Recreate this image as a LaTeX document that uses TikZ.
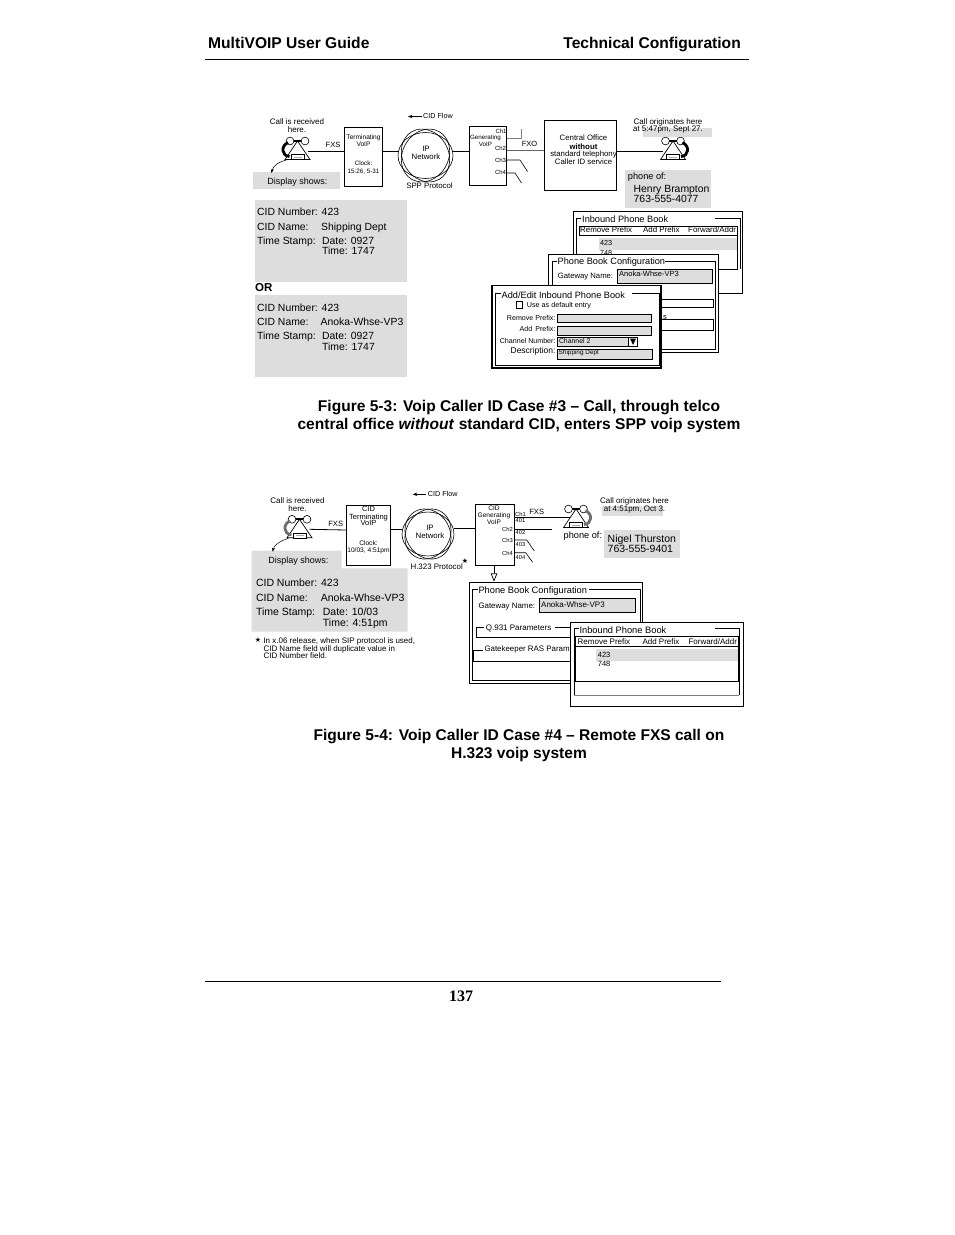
\documentclass[tikz,border=0pt]{standalone}
\usepackage{fontspec}
\setmainfont{Liberation Sans}
\newfontfamily\pagenumfont{Liberation Serif}
\newfontfamily\starfont{DejaVu Sans}
\usepackage{xcolor}
\usepackage{tikz}
\usetikzlibrary{arrows.meta, positioning}
\definecolor{figshade}{RGB}{221,221,221}
\definecolor{coilgray}{RGB}{110,110,110}
\tikzstyle{arrow} = [-{Stealth[length=1.6mm]}, semithick]
\tikzset{
    fsz/.style={font=\fontsize{#1}{#1}\selectfont},
    txt/.style={inner sep=0pt, anchor=west, execute at begin node={\rule[-0.2em]{0pt}{1.1em}}},
    mid/.style={inner sep=0pt, align=center},
    ctxt/.style={inner sep=0pt, anchor=east, execute at begin node={\rule[-0.2em]{0pt}{1.1em}}},
    wire/.style={line width=0.8pt},
    shade/.style={fill=figshade, draw=none},
    pane/.style={draw, fill=white, line width=1pt},
    frameline/.style={line width=0.7pt},
    field/.style={draw, fill=figshade, line width=0.6pt},
    pics/phoneset/.style={code={
        \draw[line width=2pt] (-7.5,0) -- (7.5,0);
        \draw[fill=white, line width=0.6pt] (-7.5,0) circle (3.9);
        \draw[fill=white, line width=0.6pt] (7.5,0) circle (3.9);
        \draw[line width=0.7pt] (0,0) -- (-12.5,18.5) -- (12.5,18.5) -- cycle;
        \draw[fill=white, line width=0.6pt] (-6,13.5) rectangle (6.5,18.5);
        \draw[coilgray!60, line width=0.6pt] (-4,16) -- (4.5,16);
        \draw[#1, line width=2.8pt] (-9.5,1.5) .. controls (-17,5) and (-16,15) .. (-8,15.5);
        \coordinate (-port) at (10,10);
        \coordinate (-base) at (-11,19);
    }},
}
\begin{document}
\begin{tikzpicture}[x=1pt, y=-1pt]
    \useasboundingbox (0,0) rectangle (954,1235);
    \fill[white] (0,0) rectangle (954,1235);
    % page head and foot
    \node[inner sep=0pt, anchor=base west, font=\fontsize{15.6}{16}\selectfont\bfseries] (headl) at (208,48) {MultiVOIP User Guide};
    \node[inner sep=0pt, anchor=base east, font=\fontsize{15.6}{16}\selectfont\bfseries] (headr) at (741,48) {Technical Configuration};
    \coordinate (rulea) at (205,59.5);
    \coordinate (ruleb) at (749,59.5);
    \draw[line width=0.8pt] (rulea) -- (ruleb);
    \coordinate (rulec) at (205,981.5);
    \coordinate (ruled) at (721,981.5);
    \draw[line width=0.8pt] (rulec) -- (ruled);
    \node[mid, font=\pagenumfont\fontsize{16}{16}\selectfont\bfseries] (pagenum) at (461,996) {137};

    % figure 5-3, top row
    \node[mid, fsz=8] (rxtext) at (297,126) {Call is received\\[0.2pt]here.};
    \pic (rxa) at (297.5,141) {phoneset={black}};
    \node[draw, line width=0.8pt, minimum width=38pt, minimum height=59pt, inner sep=0pt] (termbox) at (363.5,157) {};
    \node[mid, fsz=6.6] (termtext) at (363.5,140.5) {Terminating\\[0.4pt]VoIP};
    \node[mid, fsz=6.3] (termclock) at (363.5,167.5) {Clock:\\[1pt]15:26, 5-31};
    \node[mid, fsz=7.6] (fxsa) at (333,144.7) {FXS};
    \coordinate (terma) at (termbox.west |- 0,151);
    \draw[wire] (rxa-port) -- (terma);
    \foreach \ang in {0,60,120}
        \draw[line width=0.6pt, rotate around={\ang:(425.5,155.5)}] (425.5,155.5) ellipse (27.5 and 23);
    \node[circle, minimum size=40pt, inner sep=0pt] (neta) at (425.5,157) {};
    \node[mid, fsz=7.8] (netatext) at (426,152.5) {IP\\[0.2pt]Network};
    \coordinate (netal) at (398,151);
    \coordinate (netar) at (453,151);
    \coordinate (termar) at (termbox.east |- 0,151);
    \draw[wire] (termar) -- (netal);
    \coordinate (flowa) at (422,116.5);
    \coordinate (flowb) at (408,116.5);
    \draw[arrow] (flowa) -- (flowb);
    \node[txt, fsz=7.2] (flowtext) at (423,116) {CID Flow};
    \node[mid, fsz=7.8] (spptext) at (429.5,186) {SPP Protocol};
    \node[draw, line width=0.7pt, minimum width=37.5pt, minimum height=58.5pt, inner sep=0pt] (genbox) at (488,155.7) {};
    \coordinate (genal) at (genbox.west |- 0,151);
    \draw[wire] (netar) -- (genal);
    \node[mid, fsz=6.2] (gentext) at (485.5,141) {Generating\\[0.6pt]VoIP};
    \node[mid, fsz=6] (gench) at (501,131) {Ch1};
    \foreach \y/\lab in {148/Ch2,160/Ch3,172/Ch4}
        \node[mid, fsz=6] (gen\lab) at (500.5,\y) {\lab};
    \coordinate (cha) at (genbox.east |- 0,138.5);
    \coordinate (chb) at (521,138.5);
    \coordinate (chc) at (521,128.5);
    \draw[gray, line width=1pt] (cha) -- (chb);
    \draw[gray, line width=0.6pt] (chb) -- (chc);
    \coordinate (chd) at (genbox.east |- 0,160);
    \coordinate (che) at (520,160);
    \coordinate (chf) at (527.5,171.5);
    \draw[line width=0.6pt] (chd) -- (che) -- (chf);
    \coordinate (chg) at (genbox.east |- 0,173);
    \coordinate (chh) at (515,173);
    \coordinate (chi) at (521.5,183);
    \draw[line width=0.6pt] (chg) -- (chh) -- (chi);
    \node[draw, line width=0.8pt, minimum width=72.5pt, minimum height=70pt, inner sep=0pt] (cobox) at (580.5,155.3) {};
    \coordinate (genbr) at (genbox.east |- 0,150);
    \coordinate (coal) at (cobox.west |- 0,150);
    \draw[gray!80!black, line width=1pt] (genbr) -- (coal);
    \node[mid, fsz=7.5] (fxo) at (529.5,143.7) {FXO};
    \node[mid, fsz=7.8] (cotext) at (583.5,149.5) {Central Office\\[1.4pt]\textbf{without}\\[-0.8pt]standard telephony\\[0pt]Caller ID service};
    \pic[xscale=-1] (txa) at (673,141) {phoneset={black}};
    \coordinate (coar) at (cobox.east |- 0,151);
    \draw[wire] (coar) -- (txa-port);
    \fill[shade] (643,128) rectangle (712,137);
    \node[mid, fsz=8] (txtext) at (668,125.8) {Call originates here\\[-1pt]at 5:47pm, Sept 27.};
    \fill[shade] (625,170) rectangle (710.7,207.7);
    \node[txt, fsz=9.2] (phoneofa) at (627.7,176) {phone of:};
    \node[txt, fsz=10.4] (henry) at (633.5,189.3) {Henry Brampton};
    \node[txt, fsz=10.4] (henrytel) at (633.5,199.3) {763-555-4077};
    \fill[shade] (253,172) rectangle (340,189);
    \node[mid, fsz=9] (dispa) at (297.5,181.8) {Display shows:};
    \draw[-{Stealth[length=1.4mm]}, line width=0.5pt] (rxa-base) .. controls (278,162) and (273,166) .. (271.5,173);

    % figure 5-3, display text
    \fill[shade] (254.5,200) rectangle (407,282);
    \node[txt, fsz=10.4] (numa) at (257,212) {CID Number: 423};
    \node[txt, fsz=10.4] (nama) at (257,226.5) {CID Name:};
    \node[txt, fsz=10.4] (namav) at (321,226.5) {Shipping Dept};
    \node[txt, fsz=10.4] (stampa) at (257,240.5) {Time Stamp:};
    \node[txt, fsz=10.4] (datea) at (322,240.5) {Date: 0927};
    \node[txt, fsz=10.4] (timea) at (322,251) {Time: 1747};
    \node[txt, font=\fontsize{11.5}{11.5}\selectfont\bfseries] (ortext) at (255,287) {OR};
    \fill[shade] (254.5,295) rectangle (407,377);
    \node[txt, fsz=10.4] (numb) at (257,307.5) {CID Number: 423};
    \node[txt, fsz=10.4] (namb) at (257,322) {CID Name:};
    \node[txt, fsz=10.4] (nambv) at (320.5,322) {Anoka-Whse-VP3};
    \node[txt, fsz=10.4] (stampb) at (257,336) {Time Stamp:};
    \node[txt, fsz=10.4] (dateb) at (322,336) {Date: 0927};
    \node[txt, fsz=10.4] (timeb) at (322,346.5) {Time: 1747};

    % figure 5-3, inbound phone book window
    \draw[pane] (573,211.7) rectangle (742.3,293.3);
    \draw[frameline] (581,218.5) -- (576.7,218.5) -- (576.7,290);
    \draw[frameline] (715,218.5) -- (740,218.5) -- (740,269);
    \draw[frameline] (579,235.5) -- (579,226) -- (737.5,226) -- (737.5,269) -- (710,269);
    \draw[frameline] (579,235.5) -- (737.5,235.5);
    \fill[shade] (599,238.3) rectangle (737.3,250);
    \node[txt, fsz=9.2] (inatitle) at (582,219) {Inbound Phone Book};
    \node[txt, fsz=7.9] (inaremove) at (580,229.8) {Remove Prefix};
    \node[txt, fsz=7.9] (inaadd) at (643,229.8) {Add Prefix};
    \node[txt, fsz=7.9] (inafwd) at (688,229.8) {Forward/Addr};
    \node[txt, fsz=7.2] (inaone) at (600,243) {423};
    \node[txt, fsz=7.2] (inatwo) at (600,252.8) {748};

    % figure 5-3, phone book configuration window
    \draw[pane] (548.3,254.3) rectangle (718.3,352.3);
    \draw[frameline] (557,261.5) -- (552,261.5) -- (552,349) -- (715.5,349) -- (715.5,261.5) -- (665,261.5);
    \node[txt, fsz=9.2] (pbatitle) at (557.5,261.8) {Phone Book Configuration};
    \node[txt, fsz=7.7] (pbagate) at (557.7,276.3) {Gateway Name:};
    \draw[field] (617.3,269.3) rectangle (712.7,283.3);
    \node[txt, fsz=7.5] (pbaname) at (619,274) {Anoka-Whse-VP3};
    \draw[frameline] (650,299.7) rectangle (713.7,307.7);
    \draw[frameline] (650,319.5) -- (713.7,319.5) -- (713.7,330.7) -- (650,330.7);
    \node[txt, fsz=7.5] (pbarest) at (663,317.3) {s};

    % figure 5-3, add/edit window
    \draw[draw, fill=white, line width=1.6pt] (492,285.3) rectangle (661,368);
    \draw[frameline] (501,293.5) -- (495,293.5) -- (495,365.5) -- (659,365.5) -- (659,293.5) -- (632,293.5);
    \node[txt, fsz=9.2] (edittitle) at (501.5,295) {Add/Edit Inbound Phone Book};
    \draw[line width=0.6pt] (516,301.7) rectangle (522.7,308.3);
    \node[txt, fsz=7.2] (editdef) at (526.7,304.8) {Use as default entry};
    \node[ctxt, fsz=7.1] (editrm) at (555.7,317.8) {Remove Prefix:};
    \draw[field] (557.3,314.3) rectangle (651.7,322.3);
    \node[ctxt, fsz=7.1] (editadd) at (555.7,329) {Add\, Prefix:};
    \draw[field] (557.3,326.7) rectangle (651.7,335.3);
    \node[ctxt, fsz=7.1] (editch) at (555.7,340.6) {Channel Number:};
    \draw[field] (557.3,337.3) rectangle (637.7,346);
    \node[txt, fsz=6.9] (editchv) at (558.8,341.2) {Channel 2};
    \draw[fill=white, line width=0.6pt] (628.3,337.3) rectangle (637.7,346);
    \fill (630,338.5) -- (636,338.5) -- (633,345) -- cycle;
    \node[ctxt, fsz=8.5] (editdesc) at (555.7,350.3) {Description:};
    \draw[field] (557.3,349.3) rectangle (652.7,359.3);
    \node[txt, fsz=6.4] (editdescv) at (558.5,352.7) {Shipping Dept};

    % caption of figure 5-3
    \node[mid, font=\fontsize{15.55}{18}\selectfont\bfseries] (capa) at (519,416) {Figure 5-3: Voip Caller ID Case \#3 -- Call, through telco\\central office \textit{without} standard CID, enters SPP voip system};

    % figure 5-4, top row
    \node[mid, fsz=8] (rxtextb) at (297.5,504.3) {Call is received\\[0pt]here.};
    \pic (rxb) at (299.5,519.3) {phoneset={coilgray}};
    \node[draw, line width=0.8pt, minimum width=43.5pt, minimum height=60.7pt, inner sep=0pt] (termboxb) at (368.5,535.3) {};
    \node[mid, fsz=7.5] (termtextb) at (368.5,516) {CID\\[0pt]Terminating\\[-1.2pt]VoIP};
    \node[mid, fsz=6.6] (termclockb) at (368.5,547) {Clock:\\[0.7pt]10/03, 4:51pm};
    \node[mid, fsz=7.6] (fxsb) at (335.7,524) {FXS};
    \coordinate (termb) at (termboxb.west |- 0,530);
    \draw[wire] (rxb-port) -- (termb);
    \foreach \ang in {0,60,120}
        \draw[line width=0.6pt, rotate around={\ang:(428,534)}] (428,534) ellipse (26 and 22);
    \node[circle, minimum size=40pt, inner sep=0pt] (netb) at (428,534) {};
    \node[mid, fsz=7.8] (netbtext) at (430,531.7) {IP\\[0.2pt]Network};
    \coordinate (termbr) at (termboxb.east |- 0,529);
    \coordinate (netbl) at (402,529);
    \draw[wire] (termbr) -- (netbl);
    \coordinate (netbr) at (454,528);
    \coordinate (flowc) at (425.7,494.3);
    \coordinate (flowd) at (412.7,494.3);
    \draw[arrow] (flowc) -- (flowd);
    \node[txt, fsz=7.2] (flowtextb) at (427.7,493.6) {CID Flow};
    \node[mid, fsz=7.9] (h323text) at (436.7,566.2) {H.323 Protocol};
    \node[mid, font=\starfont\fontsize{7}{7}\selectfont] (stara) at (465,561) {★};
    \node[draw, line width=0.8pt, minimum width=38.6pt, minimum height=61pt, inner sep=0pt] (genboxb) at (495,534.8) {};
    \coordinate (genbl) at (genboxb.west |- 0,528);
    \draw[wire] (netbr) -- (genbl);
    \node[mid, fsz=6.6] (gentextb) at (494,515.3) {CID\\[0.8pt]Generating\\[0pt]VoIP};
    \node[mid, fsz=5.8] (chba) at (520.5,514) {Ch1};
    \node[mid, fsz=5.8] (chbb) at (520.5,520.3) {401};
    \foreach \y/\lab in {529.3/Ch2,540.7/Ch3,553.3/Ch4}
        \node[mid, fsz=5.8] (genb\lab) at (507.5,\y) {\lab};
    \foreach \y/\lab in {532.7/402,544/403,557.7/404}
        \node[mid, fsz=5.8] (genb\lab) at (520.5,\y) {\lab};
    \node[mid, fsz=7.6] (fxsc) at (536.7,511.8) {FXS};
    \pic[xscale=-1] (txb) at (576,509) {phoneset={coilgray}};
    \coordinate (chba1) at (genboxb.east |- 0,517.7);
    \coordinate (chbh) at (570,517.7);
    \draw[wire] (chba1) -- (chbh);
    \coordinate (chba2) at (genboxb.east |- 0,529);
    \coordinate (chbc) at (552.3,529);
    \draw[wire] (chba2) -- (chbc);
    \coordinate (chba3) at (genboxb.east |- 0,540);
    \coordinate (chbd) at (526.7,540);
    \coordinate (chbe) at (534.3,551);
    \draw[line width=0.6pt] (chba3) -- (chbd) -- (chbe);
    \coordinate (chba4) at (genboxb.east |- 0,552.7);
    \coordinate (chbf) at (525.7,552.7);
    \coordinate (chbg) at (532.7,562.3);
    \draw[line width=0.6pt] (chba4) -- (chbf) -- (chbg);
    \fill[shade] (602.3,505.7) rectangle (662.7,515.7);
    \node[mid, fsz=8] (txtextb) at (634.5,505.2) {Call originates here\\[-0.3pt]at 4:51pm, Oct 3.};
    \node[txt, fsz=9.2] (phoneofb) at (563.5,535.7) {phone of:};
    \fill[shade] (604,530) rectangle (680,557.7);
    \node[txt, fsz=10.5] (nigel) at (607.5,538.5) {Nigel Thurston};
    \node[txt, fsz=10.5] (nigeltel) at (607.5,548.5) {763-555-9401};

    % figure 5-4, display text
    \fill[shade] (251.7,550.7) -- (341.7,550.7) -- (341.7,568.3) -- (407.7,568.3) -- (407.7,631.7) -- (251.7,631.7) -- cycle;
    \node[mid, fsz=9] (dispb) at (298.3,561) {Display shows:};
    \draw[-{Stealth[length=1.4mm]}, line width=0.5pt] (rxb-base) .. controls (280,541) and (274,545) .. (272.7,551.7);
    \node[txt, fsz=10.5] (numc) at (255.8,582.7) {CID Number: 423};
    \node[txt, fsz=10.5] (namc) at (255.8,597.7) {CID Name:};
    \node[txt, fsz=10.5] (namcv) at (320.7,597.7) {Anoka-Whse-VP3};
    \node[txt, fsz=10.5] (stampc) at (255.8,611.7) {Time Stamp:};
    \node[txt, fsz=10.5] (datec) at (322.7,611.7) {Date: 10/03};
    \node[txt, fsz=10.5] (timec) at (322.7,622.7) {Time: 4:51pm};
    \node[mid, font=\starfont\fontsize{7}{7}\selectfont] (starb) at (258,640) {★};
    \node[inner sep=0pt, anchor=west, align=left, font=\fontsize{8}{7.6}\selectfont] (notetext) at (263.3,648.3) {In x.06 release, when SIP protocol is used,\\CID Name field will duplicate value in\\CID Number field.};

    % figure 5-4, phone book configuration window
    \coordinate (bookin) at (494,581.7);
    \coordinate (genbd) at (genboxb.south -| bookin);
    \draw[-{Triangle[open, length=8.4pt, width=6.6pt]}, line width=0.7pt] (genbd) -- (bookin);
    \draw[pane] (469.7,582.7) rectangle (642.3,683.3);
    \draw[frameline] (477.5,589.5) -- (472.5,589.5) -- (472.5,680.7) -- (640,680.7) -- (640,589.5) -- (589,589.5);
    \node[txt, fsz=9.3] (pbbtitle) at (478.3,590) {Phone Book Configuration};
    \node[txt, fsz=7.9] (pbbgate) at (478.3,606) {Gateway Name:};
    \draw[field] (539,598.3) rectangle (635.7,612.3);
    \node[txt, fsz=8] (pbbname) at (541,604.2) {Anoka-Whse-VP3};
    \draw[frameline] (484,627.3) -- (476.7,627.3) -- (476.7,637.3) -- (572,637.3);
    \draw[frameline] (555,627.3) -- (572,627.3);
    \node[txt, fsz=8] (pbbq) at (485.7,627.3) {Q.931 Parameters};
    \draw[frameline] (483,650) -- (473.5,650);
    \draw[line width=1pt] (473.5,650) -- (473.5,661) -- (572,661);
    \node[txt, fsz=7.9] (pbbgk) at (484.3,649) {Gatekeeper RAS Param};

    % figure 5-4, inbound phone book window
    \draw[pane] (570.7,622.3) rectangle (743.3,706);
    \draw[gray, line width=0.5pt] (574,695) -- (739,695);
    \draw[frameline] (578.5,628.3) -- (574,628.3) -- (574,695);
    \draw[frameline] (715,628.3) -- (739,628.3) -- (739,695);
    \draw[line width=0.8pt] (575,636.7) rectangle (738.3,681.7);
    \draw[line width=0.8pt] (575,646.7) -- (738.3,646.7);
    \fill[shade] (596,649.3) rectangle (737.8,661);
    \node[txt, fsz=9.3] (inbtitle) at (579.3,630) {Inbound Phone Book};
    \node[txt, fsz=8] (inbremove) at (577.5,641.7) {Remove Prefix};
    \node[txt, fsz=8] (inbadd) at (642.3,641.7) {Add Prefix};
    \node[txt, fsz=8] (inbfwd) at (688.3,641.7) {Forward/Addr};
    \node[txt, fsz=7.5] (inbone) at (597.7,655.3) {423};
    \node[txt, fsz=7.5] (inbtwo) at (597.7,664) {748};

    % caption of figure 5-4
    \node[mid, font=\fontsize{15.55}{18}\selectfont\bfseries] (capb) at (519,745) {Figure 5-4: Voip Caller ID Case \#4 -- Remote FXS call on\\H.323 voip system};
\end{tikzpicture}
\end{document}
